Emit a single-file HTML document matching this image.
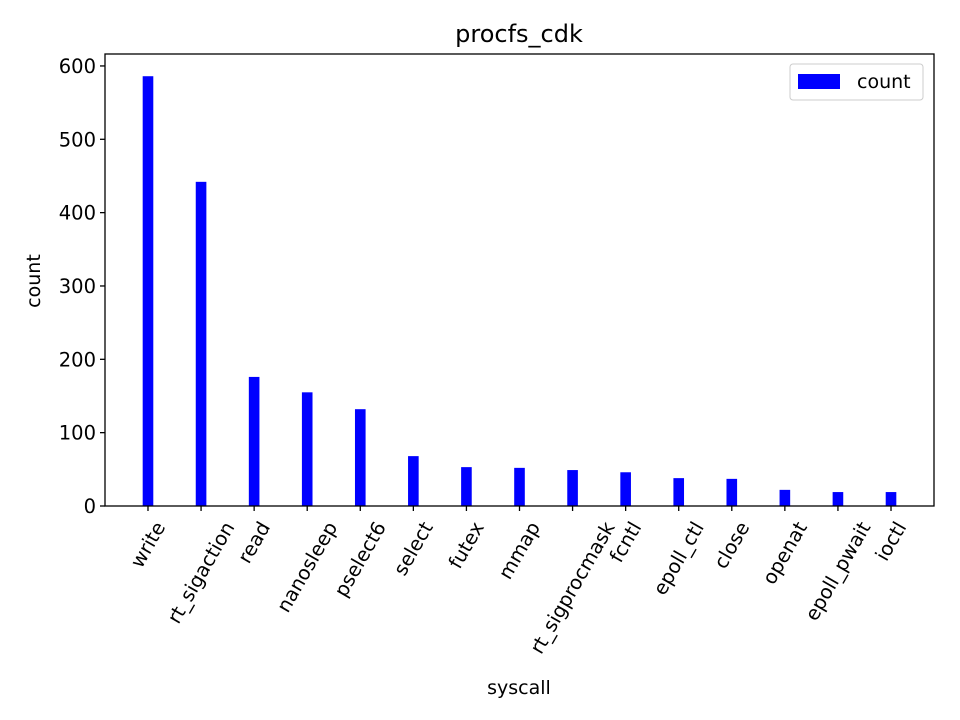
<!DOCTYPE html>
<html><head><meta charset="utf-8"><style>
body{margin:0;background:#fff}
svg{display:block;font-family:"DejaVu Sans","Liberation Sans",sans-serif}
</style></head><body>
<svg id="chart" width="960" height="720">
<rect width="960" height="720" fill="#fff"/>
<text x="519" y="42" font-size="24" text-anchor="middle">procfs_cdk</text>
<g id="bars"></g>
<g id="yticks"></g>
<g id="xticks"></g>
<rect x="105" y="54" width="829" height="452" fill="none" stroke="#000" stroke-width="1.3"/>
<text x="40" y="281" font-size="19" text-anchor="middle" transform="rotate(-90 40 281)">count</text>
<text x="519" y="694" font-size="19" text-anchor="middle">syscall</text>
<g>
<rect x="790" y="64" width="133" height="36" rx="3" fill="#fff" stroke="#ccc"/>
<rect x="798" y="74" width="42" height="15" fill="#0000ff"/>
<text x="857" y="88" font-size="19">count</text>
</g>
</svg>
<script>
const categories=["write","rt_sigaction","read","nanosleep","pselect6","select","futex","mmap","rt_sigprocmask","fcntl","epoll_ctl","close","openat","epoll_pwait","ioctl"];
const counts=[586,442,176,155,132,68,53,52,49,46,38,37,22,19,19];
const yTicks=[0,100,200,300,400,500,600];
const NS="http://www.w3.org/2000/svg";
const L=105,R=934,T=54,B=506;
const xmin=-0.81,xmax=14.81,ymin=0,ymax=616.3;
function xs(i){return L+(i-xmin)/(xmax-xmin)*(R-L);}
function ys(v){return B-(v-ymin)/(ymax-ymin)*(B-T);}
const bw=0.2*(R-L)/(xmax-xmin);
const gb=document.getElementById('bars'),gy=document.getElementById('yticks'),gx=document.getElementById('xticks');
counts.forEach((v,i)=>{
 const r=document.createElementNS(NS,'rect');
 r.setAttribute('x',xs(i)-bw/2);r.setAttribute('y',ys(v));
 r.setAttribute('width',bw);r.setAttribute('height',B-ys(v));r.setAttribute('fill','#0000ff');
 
 
 gb.appendChild(r);
});
yTicks.forEach(t=>{
 const y=ys(t);
 const l=document.createElementNS(NS,'line');
 l.setAttribute('x1',L-5);l.setAttribute('x2',L);l.setAttribute('y1',y);l.setAttribute('y2',y);l.setAttribute('stroke','#000');l.setAttribute('stroke-width','1.3');
 
 
 gy.appendChild(l);
 const tx=document.createElementNS(NS,'text');
 tx.setAttribute('x',L-9);tx.setAttribute('y',y+7);tx.setAttribute('font-size','19.5');tx.setAttribute('text-anchor','end');
 tx.textContent=t;
 
 
 gy.appendChild(tx);
});
categories.forEach((c,i)=>{
 const x=xs(i);
 const l=document.createElementNS(NS,'line');
 l.setAttribute('x1',x);l.setAttribute('x2',x);l.setAttribute('y1',B);l.setAttribute('y2',B+5);l.setAttribute('stroke','#000');l.setAttribute('stroke-width','1.3');
 
 
 gx.appendChild(l);
 const tx=document.createElementNS(NS,'text');
 tx.setAttribute('font-size','19.5');tx.setAttribute('text-anchor','middle');tx.setAttribute('dominant-baseline','central');
 tx.textContent=c;
 
 
 gx.appendChild(tx);
 const w=tx.getComputedTextLength(),h=22;
 const bh=w*Math.sin(Math.PI/3)+h*0.5;
 const cy=B+12+bh/2;
 tx.setAttribute('x',x);tx.setAttribute('y',cy);
 tx.setAttribute('transform','rotate(-60 '+x+' '+cy+')');
});
</script>
</body></html>
